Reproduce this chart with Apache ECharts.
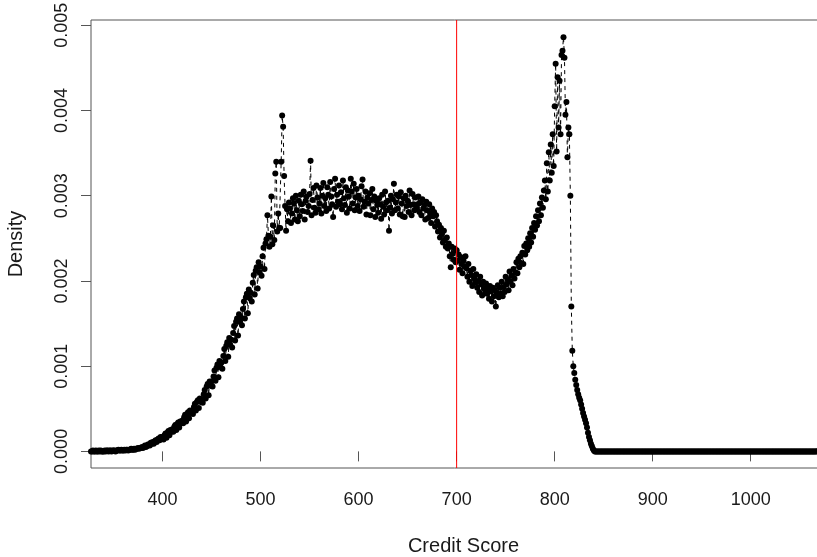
<!DOCTYPE html>
<html>
<head>
<meta charset="utf-8">
<script src="https://cdn.jsdelivr.net/npm/echarts@6/dist/echarts.min.js"></script>
<style>
html,body{margin:0;padding:0;background:#fff;}
#chart{width:817px;height:557px;}
</style>
</head>
<body>
<div id="chart"></div>
<script>
// Density values in units of 1e-5, one per integer credit score starting at firstScore
const firstScore = 327;
const densLeftTail = [
  0,0,1,0,0,1,0,0,1,0,1,0,0,
  0,1,0,1,1,0,1,1,0,1,
  1,1,0,1,1,2,1,1,2,1,
  1,2,1,2,2,1,2,2,3,2,
  2,3,2,3,3,4,3,4,4,5,
  4,5,7,5,6,8,8,7,10,9,
  11,9,12,13,11,14,15,13,17,16
];
const densRise = [
  17,14,19,21,16,22,24,19,25,23,
  26,23,29,31,25,32,34,28,35,33,
  36,33,40,43,35,44,46,39,48,45,
  47,44,52,56,48,58,60,51,62,58,
  61,57,67,72,62,76,79,66,82,77,
  82,76,88,95,83,98,102,87,106,99,
  104,97,112,120,106,124,128,111,133,125,
  131,122,139,147,130,152,156,136,161,152,
  157,148,167,176,156,181,185,162,190,180,
  186,176,198,207,184,212,216,191,222,210,
  217,206,229,239,214,244,249,277,253,240
];
const densPlateau = [
  252,299,243,265,248,326,340,258,279,262,
  262,340,394,381,323,288,259,284,270,292,
  285,268,279,297,291,272,300,283,270,294,
  276,301,290,282,305,272,294,299,281,288,
  302,341,277,295,309,286,280,312,298,284,
  291,309,279,300,315,288,297,282,310,301,
  285,316,299,290,275,308,320,287,301,293,
  312,290,304,284,318,297,289,310,280,306,
  299,285,320,305,291,314,283,298,308,288,
  300,282,296,311,319,287,293,305,278,298,
  291,303,277,295,308,284,299,275,294,289,
  280,297,290,273,301,287,278,305,292,283,
  294,259,286,300,279,296,314,283,292,301,
  285,299,278,304,291,276,297,275,300,288,
  294,281,306,289,277,302,290,283,298,286,
  290,299,281,292,277,296,285,289,272,293,
  283,274,290,279,268,285,276,281,264,277,
  270,258,266,251,262,255,245,259,248,240
];
const densValleyPeak = [
  251,238,244,229,216,240,232,225,238,222,
  236,224,231,213,228,220,209,224,217,229,
  215,205,220,199,212,207,194,214,203,198,
  208,192,200,187,205,196,183,199,191,186,
  197,185,191,179,194,188,176,192,182,189,
  170,186,195,181,192,185,199,182,193,187,
  205,196,202,189,211,199,206,195,214,203,
  210,222,209,226,216,229,221,233,220,241,
  231,244,236,250,240,256,245,262,252,268,
  260,276,265,283,270,291,277,298,286,306,
  318,296,338,305,351,318,360,327,372,335,
  405,455,352,439,380,435,372,465,470,486,
  462,395,410,345,380,372,300,170,118,100,
  92,84,78,72,67,63,60,55,50,45,
  41,37,33,28,22,17,13,9,6,3,
  1,0,0
];
const densRightTail = [
  0,0,0,0,0,0,0,0,0,0,0,0,0,0,0,0,0,0,0,0,
  0,0,0,0,0,0,0,0,0,0,0,0,0,0,0,0,0,0,0,0,
  0,0,0,0,0,0,0,0,0,0,0,0,0,0,0,0,0,0,0,0,
  0,0,0,0,0,0,0,0,0,0,0,0,0,0,0,0,0,0,0,0,
  0,0,0,0,0,0,0,0,0,0,0,0,0,0,0,0,0,0,0,0,
  0,0,0,0,0,0,0,0,0,0,0,0,0,0,0,0,0,0,0,0,
  0,0,0,0,0,0,0,0,0,0,0,0,0,0,0,0,0,0,0,0,
  0,0,0,0,0,0,0,0,0,0,0,0,0,0,0,0,0,0,0,0,
  0,0,0,0,0,0,0,0,0,0,0,0,0,0,0,0,0,0,0,0,
  0,0,0,0,0,0,0,0,0,0,0,0,0,0,0,0,0,0,0,0,
  0,0,0,0,0,0,0,0,0,0,0,0,0,0,0,0,0,0,0,0,
  0,0,0,0,0,0,0,0,0,0,0,0,0,0,0,0,0,0,0,0,
  0,0,0,0,0
];
const xTicks = [400, 500, 600, 700, 800, 900, 1000];
const yTicks = [0, 0.001, 0.002, 0.003, 0.004, 0.005];
const cutoffScore = 700;
const xLabel = 'Credit Score';
const yLabel = 'Density';

// axis extents
const X_MIN = 327, X_MAX = 1087;
const Y_MIN = -0.000195, Y_MAX = 0.005062;

const allDens = [].concat(densLeftTail, densRise, densPlateau, densValleyPeak, densRightTail);
const points = allDens.map((d, i) => [firstScore + i, d / 100000]);
const cutoffLine = [[cutoffScore, Y_MIN], [cutoffScore, Y_MAX]];

const font = "'Liberation Sans', Arial, sans-serif";
const chart = echarts.init(document.getElementById('chart'), null, {renderer: 'canvas'});
chart.setOption({
  animation: false,
  backgroundColor: '#ffffff',
  grid: {left: 91, width: 745, top: 20, height: 448, show: true, borderColor: '#555', borderWidth: 1,
    backgroundColor: 'transparent', containLabel: false, outerBoundsMode: 'none'},
  xAxis: {
    type: 'value', min: X_MIN, max: X_MAX,
    name: xLabel, nameLocation: 'middle', nameGap: 68,
    nameTextStyle: {fontFamily: font, fontSize: 20, color: '#1a1a1a'},
    axisLine: {show: false},
    splitLine: {show: false},
    axisTick: {show: true, length: 10, inside: false, lineStyle: {color: '#555', width: 1}, customValues: xTicks},
    axisLabel: {fontFamily: font, fontSize: 18, color: '#1a1a1a', margin: 23, customValues: xTicks,
      formatter: v => String(v)}
  },
  yAxis: {
    type: 'value', min: Y_MIN, max: Y_MAX,
    name: yLabel, nameLocation: 'middle', nameGap: 65, nameRotate: 90,
    nameTextStyle: {fontFamily: font, fontSize: 20, color: '#1a1a1a'},
    axisLine: {show: false},
    splitLine: {show: false},
    axisTick: {show: true, length: 10, inside: false, lineStyle: {color: '#555', width: 1}, customValues: yTicks},
    axisLabel: {fontFamily: font, fontSize: 18, color: '#1a1a1a', margin: 20, rotate: 90,
      formatter: v => v.toFixed(3), customValues: yTicks}
  },
  series: [
    {
      type: 'line', data: points, symbol: 'none', z: 2, silent: true,
      lineStyle: {color: '#000', width: 1, type: [4, 4]},
      clip: true
    },
    {
      type: 'scatter', data: points, symbol: 'circle', symbolSize: 6, z: 3, silent: true,
      itemStyle: {color: '#000', opacity: 1}, clip: true
    },
    {
      type: 'line', data: cutoffLine, z: 5, silent: true, symbol: 'none',
      itemStyle: {color: '#ff0000'},
      lineStyle: {color: '#ff0000', type: 'solid', width: 1, opacity: 1}
    }
  ]
});
</script>
</body>
</html>
